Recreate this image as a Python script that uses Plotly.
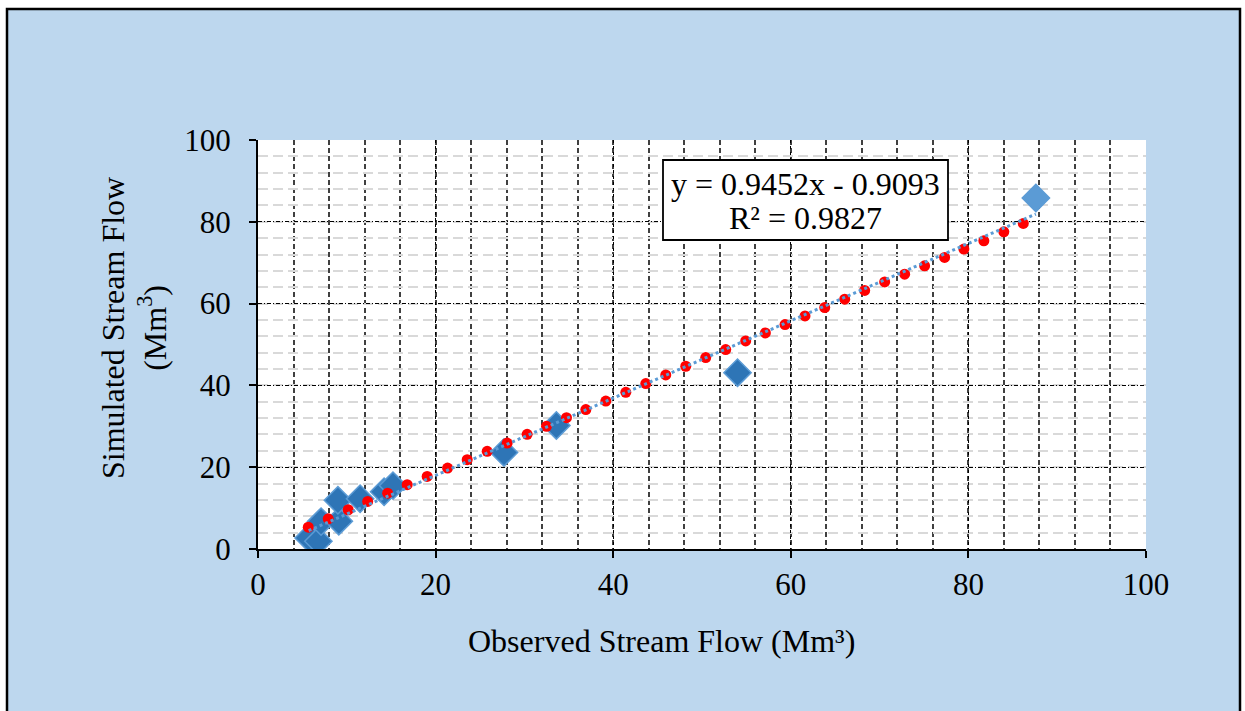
import plotly.graph_objects as go

# Observed vs simulated (blue diamonds)
observed = [5.7, 6.8, 7.1, 9.1, 9.0, 11.5, 14.2, 15.2, 27.7, 33.6, 54.0, 87.6]
simulated = [2.7, 1.9, 6.7, 6.8, 11.9, 12.3, 14.0, 15.5, 23.6, 30.2, 43.1, 85.8]
diamond_colors = ["#2E75B6"] * 11 + ["#5B9BD5"]

# Red dotted series
red_x = [5.66, 7.91, 10.16, 12.35, 14.60, 16.80, 19.05, 21.35, 23.56, 25.81,
         28.06, 30.31, 32.49, 34.74, 36.92, 39.17, 41.42, 43.67, 45.92,
         48.17, 50.42, 52.67, 54.92, 57.14, 59.35, 61.60, 63.82, 66.07, 68.32,
         70.57, 72.82, 75.07, 77.32, 79.49, 81.74, 83.99, 86.18]
red_y = [5.34, 7.39, 9.60, 11.63, 13.66, 15.72, 17.75, 19.78, 21.84, 23.87,
         25.90, 28.03, 29.99, 32.12, 34.08, 36.18, 38.31, 40.44, 42.55,
         44.68, 46.80, 48.76, 50.87, 52.83, 54.88, 56.99, 59.04, 61.08, 63.21,
         65.31, 67.20, 69.23, 71.29, 73.32, 75.35, 77.55, 79.61]

# Trendline coefficients
slope = 0.9452
intercept = -0.9093
r2 = 0.9827

tick_vals = [0, 20, 40, 60, 80, 100]
tick_text = ["0", "20", "40", "60", "80", "100"]

FONT = "Liberation Serif"
FS = 31

tx = [min(observed), max(observed)]
ty = [slope * v + intercept for v in tx]

fig = go.Figure()
fig.add_trace(go.Scatter(
    x=observed, y=simulated, mode="markers",
    marker=dict(symbol="diamond", size=21, color=diamond_colors,
                line=dict(color="#5B9BD5", width=1.5)),
    showlegend=False, hoverinfo="skip"))
fig.add_trace(go.Scatter(
    x=red_x, y=red_y, mode="markers",
    marker=dict(symbol="circle", size=11, color="#FF0000"),
    showlegend=False, hoverinfo="skip"))
fig.add_trace(go.Scatter(
    x=tx, y=ty, mode="lines",
    line=dict(color="#5B9BD5", width=3, dash="dot"),
    showlegend=False, hoverinfo="skip"))

W, H = 1245, 711
L, R, T, B = 258, 99, 140, 162
pw, ph = W - L - R, H - T - B


def px(xp):
    return (xp - L) / pw


def py(yp):
    return (H - B - yp) / ph


fig.update_layout(
    width=W, height=H,
    margin=dict(l=L, r=R, t=T, b=B, pad=0),
    paper_bgcolor="#BDD7EE",
    plot_bgcolor="white",
    font=dict(family=FONT, size=FS, color="black"),
    xaxis=dict(
        range=[0, 100], tickvals=tick_vals, ticktext=tick_text,
        ticks="outside", ticklen=7, tickwidth=2, tickcolor="black",
        showline=True, linecolor="black", linewidth=2,
        showgrid=True, gridcolor="black", gridwidth=1, griddash="dot",
        minor=dict(dtick=4, tick0=0, showgrid=True, gridcolor="#404040",
                   gridwidth=1.5, griddash="5px,3px"),
        zeroline=False, tickfont=dict(family=FONT, size=FS),
    ),
    yaxis=dict(
        range=[0, 100], tickvals=tick_vals, ticktext=tick_text,
        ticks="outside", ticklen=7, tickwidth=2, tickcolor="black",
        showline=True, linecolor="black", linewidth=2,
        showgrid=True, gridcolor="black", gridwidth=1, griddash="4px,2px,1px,2px",
        minor=dict(dtick=4, tick0=0, showgrid=True, gridcolor="#D9D9D9",
                   gridwidth=2, griddash="10px,5px"),
        zeroline=False, tickfont=dict(family=FONT, size=FS),
        ticklabelstandoff=12,
    ),
    shapes=[
        dict(type="rect", xref="paper", yref="paper",
             x0=px(0), x1=px(6), y0=py(W), y1=py(0), fillcolor="white",
             line=dict(width=0), layer="below"),
        dict(type="rect", xref="paper", yref="paper",
             x0=px(0), x1=px(W), y0=py(8), y1=py(0), fillcolor="white",
             line=dict(width=0), layer="below"),
        dict(type="rect", xref="paper", yref="paper",
             x0=px(1240), x1=px(W), y0=py(W), y1=py(0), fillcolor="white",
             line=dict(width=0), layer="below"),
        dict(type="rect", xref="paper", yref="paper",
             x0=px(7), x1=px(1240), y0=py(H + 10), y1=py(9),
             line=dict(color="black", width=2.5)),
        # equation box
        dict(type="rect", xref="paper", yref="paper",
             x0=px(663), x1=px(948), y0=py(240), y1=py(160),
             fillcolor="white", line=dict(color="black", width=1.8),
             layer="above"),
    ],
    annotations=[
        dict(text=f"y = {slope:.4f}x - {abs(intercept):.4f}",
             xref="paper", yref="paper", x=px(805.5), y=py(184),
             xanchor="center", yanchor="middle", showarrow=False,
             font=dict(family=FONT, size=32)),
        dict(text=f"R² = {r2:.4f}",
             xref="paper", yref="paper", x=px(805.5), y=py(218),
             xanchor="center", yanchor="middle", showarrow=False,
             font=dict(family=FONT, size=32)),
        dict(text="Observed Stream Flow (Mm³)",
             xref="paper", yref="paper", x=px(661), y=py(641),
             xanchor="center", yanchor="middle", showarrow=False,
             font=dict(family=FONT, size=32)),
        dict(text="Simulated Stream Flow<br>(Mm<sup>3</sup>)",
             xref="paper", yref="paper", x=px(134), y=py(328),
             xanchor="center", yanchor="middle", showarrow=False, textangle=-90,
             font=dict(family=FONT, size=32)),
    ],
)

fig.write_html("out.html", config={"displayModeBar": False},
               post_script="document.body.style.margin='0';")
